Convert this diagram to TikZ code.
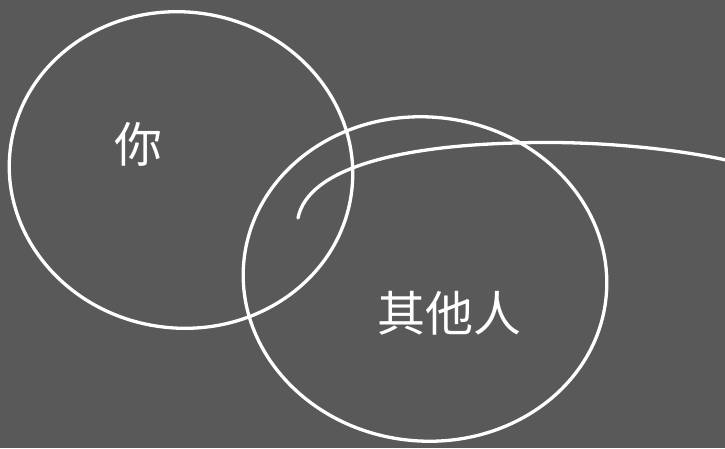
\documentclass[tikz,border=0pt]{standalone}
\usepackage{fontspec}
\newfontfamily\cjk{Noto Sans CJK SC}
\usetikzlibrary{shapes.geometric}

\begin{document}
\begin{tikzpicture}[x=1pt, y=-1pt, chalk/.style={draw=white, line width=3.3pt, line cap=round},
    ring/.style={chalk, ellipse, inner sep=0pt}, word/.style={text=white, font=\cjk\fontsize{48}{48}\selectfont}]
  % board
  \fill[black!65] (0,0) rectangle (725,448);
  \useasboundingbox (0,0) rectangle (725,448);
  % the two sets
  \node[ring, minimum width=344pt, minimum height=316pt, rotate=-8] (you) at (181,170) {};
  \node[ring, minimum width=364pt, minimum height=324pt, rotate=-6] (others) at (425,279) {};
  \node[word] (youtext) at (138,144) {你};
  \node[word] (otherstext) at (449,313) {其他人};
  % the line running out of the overlap
  \coordinate (tail) at (298,218);
  \coordinate (mid) at (515,143);
  \coordinate (edge) at (726,160);
  \draw[chalk] (tail) .. controls (308,168) and (400,146) .. (mid) .. controls (600,140) and (680,150) .. (edge);
\end{tikzpicture}
\end{document}
